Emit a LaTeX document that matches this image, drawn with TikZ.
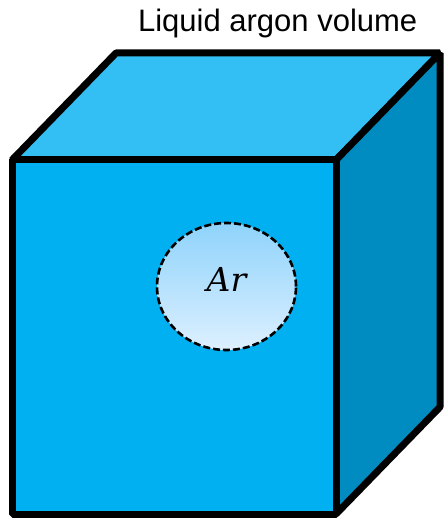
\documentclass[tikz,border=0pt]{standalone}
\usepackage{fontspec}
\setmainfont{Liberation Sans}
\newfontfamily\symfont{DejaVu Serif}
\usepackage{xcolor}
\definecolor{frontblue}{HTML}{00B0F0}
\definecolor{topblue}{HTML}{33BFF3}
\definecolor{sideblue}{HTML}{008CC1}
\definecolor{bubbletop}{HTML}{8FD3FB}
\definecolor{bubblebottom}{HTML}{DDF0FF}
\usetikzlibrary{shapes.geometric}

\begin{document}
\begin{tikzpicture}[
    x=1pt, y=-1pt,
    face/.style={draw=black, line width=7pt, line join=bevel},
    bubble/.style={ellipse, draw=black, dash pattern=on 7pt off 3pt, line width=2.6pt, minimum width=139pt, minimum height=127pt, inner sep=0pt, text height=24pt, text depth=15pt, top color=bubbletop, bottom color=bubblebottom, font=\symfont\itshape\fontsize{33}{40}\selectfont},
    caption/.style={anchor=base, inner sep=0pt, font=\fontsize{31}{37}\selectfont}
  ]
    \useasboundingbox (0,0) rectangle (446,521);

    % Corners of the cube
    \coordinate (fa) at (12,160);
    \coordinate (fb) at (336,160);
    \coordinate (fc) at (336,514);
    \coordinate (fd) at (12,514);
    \coordinate (ba) at (116,53);
    \coordinate (bb) at (440,53);
    \coordinate (bc) at (440,407);

    % Faces
    \filldraw [face, fill=topblue] (fa) -- (ba) -- (bb) -- (fb) -- cycle;
    \filldraw [face, fill=sideblue] (fb) -- (bb) -- (bc) -- (fc) -- cycle;
    \filldraw [face, fill=frontblue] (fa) -- (fb) -- (fc) -- (fd) -- cycle;

    % Argon bubble and caption
    \node [bubble] (ar) at (226.5,286.5) {Ar};
    \node [caption] (title) at (277.7,31.7) {Liquid argon volume};

\end{tikzpicture}
\end{document}
